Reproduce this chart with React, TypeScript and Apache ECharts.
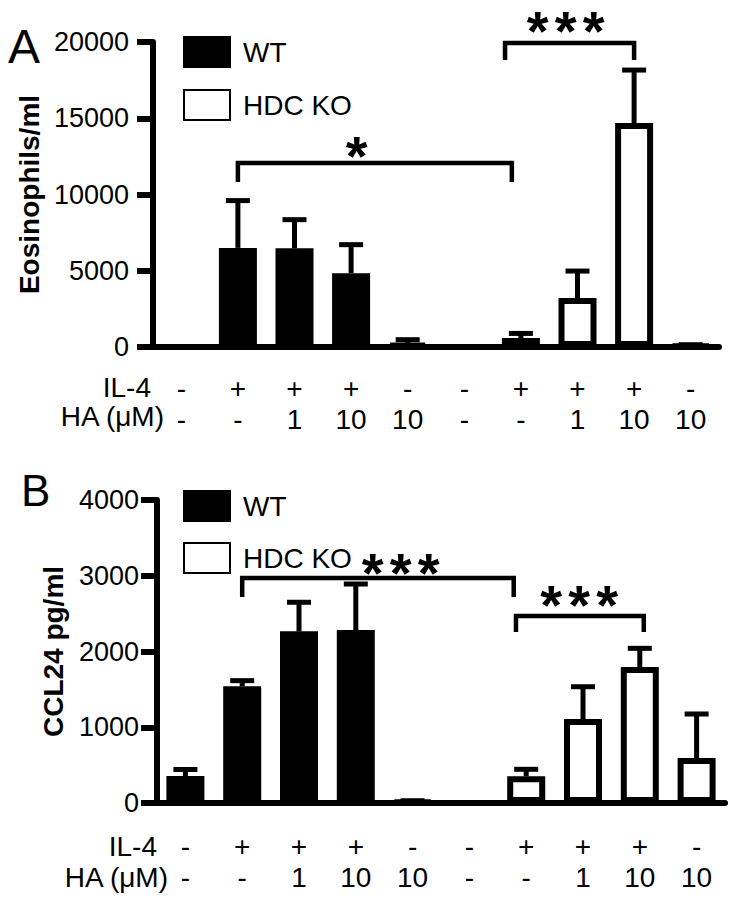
import React, { useEffect, useRef } from 'react';
import * as echarts from 'echarts';

const FONT = '"Liberation Sans", Arial, Helvetica, sans-serif';

// Conditions (x categories): 5 WT groups then 5 HDC KO groups
const CONDITIONS = [
  'WT ctrl', 'WT IL-4', 'WT IL-4 HA1', 'WT IL-4 HA10', 'WT HA10',
  'KO ctrl', 'KO IL-4', 'KO IL-4 HA1', 'KO IL-4 HA10', 'KO HA10',
];
const IL4_ROW = ['-', '+', '+', '+', '-', '-', '+', '+', '+', '-'];
const HA_ROW = ['-', '-', '1', '10', '10', '-', '-', '1', '10', '10'];

// Panel A: Eosinophils/ml
const A_WT_MEAN = [0, 6500, 6470, 4840, 200];
const A_WT_SEM = [0, 3100, 1880, 1870, 280];
const A_KO_MEAN = [0, 590, 3210, 14690, 100];
const A_KO_SEM = [0, 300, 1770, 3470, 50];
const A_Y_MAX = 20000;
const A_Y_STEP = 5000;

// Panel B: CCL24 pg/ml
const B_WT_MEAN = [356, 1540, 2266, 2283, 20];
const B_WT_SEM = [86, 75, 384, 608, 10];
const B_KO_MEAN = [0, 352, 1108, 1795, 594];
const B_KO_SEM = [0, 93, 427, 247, 581];
const B_Y_MAX = 4000;
const B_Y_STEP = 1000;

// Significance brackets (positions in category units / data units)
const BRACKETS_A = [
  { from: 1.0, to: 5.84, y: 12070, leg: 10820, lx: 3.1, ly: 13050, text: '*' },
  { from: 5.72, to: 8.0, y: 19930, leg: 18820, lx: 6.79, ly: 21250, text: '***' },
];
const BRACKETS_B = [
  { from: 1.0, to: 5.78, y: 2970, leg: 2720, lx: 3.79, ly: 3155, text: '***' },
  { from: 5.82, to: 8.07, y: 2470, leg: 2257, lx: 6.93, ly: 2720, text: '***' },
];

function fullWT(mean: number[]) {
  return CONDITIONS.map((_, i) => (i < 5 ? (mean[i] === 0 ? '-' : mean[i]) : '-'));
}
function fullKO(mean: number[]) {
  return CONDITIONS.map((_, i) => (i >= 5 ? (mean[i - 5] === 0 ? '-' : mean[i - 5]) : '-'));
}
function errData(wtM: number[], wtS: number[], koM: number[], koS: number[]) {
  const out: number[][] = [];
  wtM.forEach((m, i) => { if (wtS[i] > 0) out.push([i, m, wtS[i]]); });
  koM.forEach((m, i) => { if (koS[i] > 0) out.push([i + 5, m, koS[i]]); });
  return out;
}

function errRender(params: any, api: any) {
  const x = api.value(0);
  const m = api.value(1);
  const s = api.value(2);
  const p0 = api.coord([x, m]);
  const p1 = api.coord([x, m + s]);
  const st = { stroke: '#000', lineWidth: 5 };
  return {
    type: 'group',
    children: [
      { type: 'line', shape: { x1: p0[0], y1: p0[1], x2: p1[0], y2: p1[1] }, style: st },
      { type: 'line', shape: { x1: p1[0] - 12, y1: p1[1], x2: p1[0] + 12, y2: p1[1] }, style: st },
    ],
  };
}

function bracketRender(list: any[]) {
  return (params: any, api: any) => {
    const b = list[params.dataIndex];
    const band = api.size([1, 0])[0];
    const px = (v: number) => {
      const i = Math.floor(v);
      return api.coord([i, 0])[0] + (v - i) * band;
    };
    const py = (v: number) => api.coord([0, v])[1];
    const x1 = px(b.from), x2 = px(b.to), y = py(b.y), yl = py(b.leg);
    const st = { stroke: '#000', lineWidth: 4.5, fill: null };
    const n = b.text.length;
    const cx = px(b.lx), cy = py(b.ly);
    const stars = [];
    for (let k = 0; k < n; k++) {
      stars.push({
        type: 'text',
        x: cx + (k - (n - 1) / 2) * 28,
        y: cy + 8,
        style: {
          text: '*', fontSize: 56, fontWeight: 'bold', fontFamily: FONT,
          align: 'center', verticalAlign: 'middle', fill: '#000',
        },
      });
    }
    return {
      type: 'group',
      children: [
        { type: 'polyline', shape: { points: [[x1, yl], [x1, y], [x2, y], [x2, yl]] }, style: st },
        ...stars,
      ],
    };
  };
}

function xAxis(gridIndex: number, margin: number) {
  return {
    type: 'category', gridIndex, data: CONDITIONS, boundaryGap: true,
    axisLine: { lineStyle: { color: '#000', width: 6 } },
    axisTick: { alignWithLabel: true, length: 18, lineStyle: { color: '#000', width: 6 } },
    axisLabel: {
      interval: 0, margin, color: '#000',
      formatter: (_v: string, i: number) => `{p|${IL4_ROW[i]}}\n{h|${HA_ROW[i]}}`,
      rich: {
        p: { fontSize: 28, lineHeight: 32, fontFamily: FONT, color: '#000' },
        h: { fontSize: 28, lineHeight: 30, fontFamily: FONT, color: '#000' },
      },
    },
  };
}

function yAxis(gridIndex: number, max: number, step: number, name: string, margin: number, nameGap: number) {
  return {
    type: 'value', gridIndex, min: 0, max, interval: step,
    name, nameLocation: 'middle', nameGap,
    nameTextStyle: { fontSize: 28, fontWeight: 'bold', fontFamily: FONT, color: '#000' },
    axisLine: { show: true, lineStyle: { color: '#000', width: 6 } },
    axisTick: { show: true, length: 16, lineStyle: { color: '#000', width: 6 } },
    splitLine: { show: false },
    axisLabel: {
      fontSize: 27, margin, color: '#000', fontFamily: FONT,
      formatter: (v: number) => String(v),
    },
  };
}

function legendItem(name: string, top: number) {
  return {
    data: [name], left: 178, top, orient: 'vertical', selectedMode: false,
    itemWidth: 46, itemHeight: 30, icon: 'rect',
    textStyle: { fontSize: 28, fontFamily: FONT, color: '#000', padding: [0, 0, 0, 8] },
  };
}

export default function App() {
  const ref = useRef<HTMLDivElement>(null);
  useEffect(() => {
    document.body.style.margin = '0';
    const chart = echarts.init(ref.current!, null, { renderer: 'svg' });
    const wtStyle = { color: '#000', borderColor: '#000', borderWidth: 6 };
    const koStyle = { color: '#fff', borderColor: '#000', borderWidth: 6 };
    const bar = (name: string, idx: number, data: any[], style: any) => ({
      name, type: 'bar', xAxisIndex: idx, yAxisIndex: idx, data,
      barWidth: 38, barGap: '-100%', itemStyle: style, z: 2,
    });
    chart.setOption({
      animation: false,
      backgroundColor: '#fff',
      grid: [
        { left: 153, top: 42, width: 566, height: 305 },
        { left: 157, top: 500, width: 568, height: 303 },
      ],
      xAxis: [xAxis(0, 25), xAxis(1, 27)],
      yAxis: [
        yAxis(0, A_Y_MAX, A_Y_STEP, 'Eosinophils/ml', 24, 94),
        yAxis(1, B_Y_MAX, B_Y_STEP, 'CCL24 pg/ml', 18, 90),
      ],
      legend: [
        legendItem('WT', 31), legendItem('HDC KO', 84),
        legendItem('WT', 485), legendItem('HDC KO', 537),
      ],
      graphic: [
        { type: 'text', left: 8, top: 22, style: { text: 'A', fontSize: 48, fontFamily: FONT, fill: '#000' } },
        { type: 'text', left: 21, top: 468, style: { text: 'B', fontSize: 44, fontFamily: FONT, fill: '#000' } },
        { type: 'text', x: 151, y: 387, style: { text: 'IL-4', fontSize: 28, fontFamily: FONT, fill: '#000', align: 'right', verticalAlign: 'middle' } },
        { type: 'text', x: 164, y: 416, style: { text: 'HA (\u03bcM)', fontSize: 28, fontFamily: FONT, fill: '#000', align: 'right', verticalAlign: 'middle' } },
        { type: 'text', x: 157, y: 846, style: { text: 'IL-4', fontSize: 28, fontFamily: FONT, fill: '#000', align: 'right', verticalAlign: 'middle' } },
        { type: 'text', x: 168, y: 877, style: { text: 'HA (\u03bcM)', fontSize: 28, fontFamily: FONT, fill: '#000', align: 'right', verticalAlign: 'middle' } },
      ],
      series: [
        bar('WT', 0, fullWT(A_WT_MEAN), wtStyle),
        bar('HDC KO', 0, fullKO(A_KO_MEAN), koStyle),
        bar('WT', 1, fullWT(B_WT_MEAN), wtStyle),
        bar('HDC KO', 1, fullKO(B_KO_MEAN), koStyle),
        {
          name: 'errA', type: 'custom', xAxisIndex: 0, yAxisIndex: 0, z: 3,
          data: errData(A_WT_MEAN, A_WT_SEM, A_KO_MEAN, A_KO_SEM), renderItem: errRender,
        },
        {
          name: 'errB', type: 'custom', xAxisIndex: 1, yAxisIndex: 1, z: 3,
          data: errData(B_WT_MEAN, B_WT_SEM, B_KO_MEAN, B_KO_SEM), renderItem: errRender,
        },
        {
          name: 'sigA', type: 'custom', xAxisIndex: 0, yAxisIndex: 0, z: 4, clip: false,
          data: BRACKETS_A.map((b) => [Math.round(b.from), b.y]), renderItem: bracketRender(BRACKETS_A),
        },
        {
          name: 'sigB', type: 'custom', xAxisIndex: 1, yAxisIndex: 1, z: 4, clip: false,
          data: BRACKETS_B.map((b) => [Math.round(b.from), b.y]), renderItem: bracketRender(BRACKETS_B),
        },
      ],
    });
    return () => chart.dispose();
  }, []);
  return <div ref={ref} style={{ width: 740, height: 908 }} />;
}
